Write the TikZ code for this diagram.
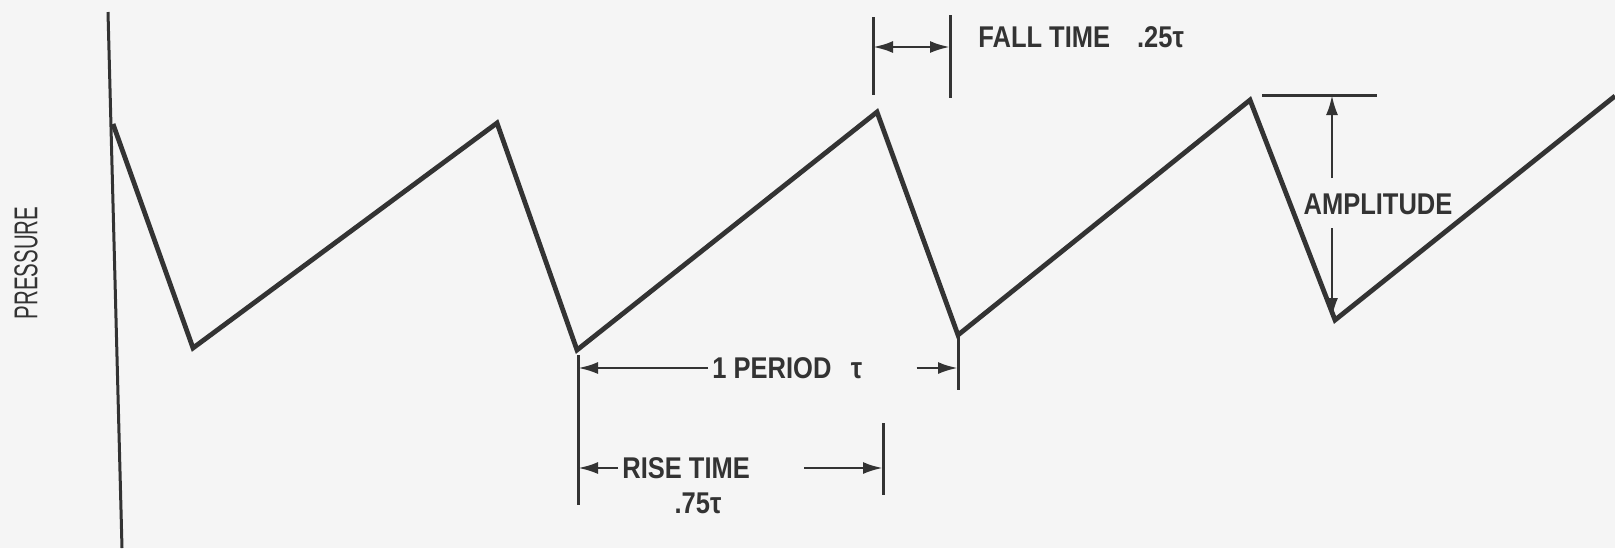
\documentclass[tikz,border=0pt]{standalone}
\usepackage{fontspec}
\setmainfont{Liberation Sans}[FakeStretch=0.85]
\newfontfamily\axisfont{Liberation Sans}[FakeStretch=0.62]
\usetikzlibrary{arrows.meta,calc}
\definecolor{ink}{gray}{0.2}
\definecolor{paper}{gray}{0.96}
\tikzset{
  wave/.style={ink,line width=2.4pt,line join=miter},
  dimline/.style={ink,line width=1.5pt},
  dimarrow/.style={ink,line width=1.4pt,-{Latex[length=10pt,width=6pt]}},
  dimboth/.style={ink,line width=1.4pt,{Latex[length=10pt,width=6pt]}-{Latex[length=10pt,width=6pt]}},
  lbl/.style={ink,font=\fontsize{15}{18}\selectfont\bfseries,inner sep=0pt},
}

\begin{document}
\begin{tikzpicture}[x=0.5pt,y=-0.5pt]
%\draw[help lines,step=50] (0,0) grid (1615,548);
\fill[paper] (0,0) rectangle (1615,548);
\useasboundingbox (0,0) rectangle (1615,548);

% axis
\coordinate (axtop) at (108,12);
\coordinate (axbot) at (122,548);
\draw[ink,line width=1.5pt] (axtop) -- (axbot);
\node[ink,font=\axisfont\fontsize{16.5}{18}\selectfont,rotate=90] (pres) at (26,263) {PRESSURE};

% sawtooth
\coordinate (w0) at (113,124);
\coordinate (t1) at (193,348);
\coordinate (p1) at (497,123);
\coordinate (t2) at (577,350);
\coordinate (p2) at (877,112);
\coordinate (t3) at (958,335);
\coordinate (p3) at (1250,100);
\coordinate (t4) at (1335,320);
\coordinate (w9) at (1615,96);
\draw[wave] (w0) -- (t1) -- (p1) -- (t2) -- (p2) -- (t3) -- (p3) -- (t4) -- (w9);

% fall time
\coordinate (fa) at (873,17);
\coordinate (fb) at (873,95);
\coordinate (fc) at (950,15);
\coordinate (fd) at (950,98);
\coordinate (fl) at (873,47);
\coordinate (fr) at (950,47);
\draw[dimline] (fa) -- (fb);
\draw[dimline] (fc) -- (fd);
\draw[dimboth] (fl) -- (fr);
\node[lbl,anchor=west] (fall) at (978,37) {FALL TIME\hspace{0.9em}.25τ};

% period
\coordinate (ba) at (578,355);
\coordinate (bb) at (578,505);
\coordinate (bc) at (958,390);
\coordinate (perL) at (578,368);
\coordinate (perR) at (958,368);
\draw[dimline] (ba) -- (bb);
\draw[dimline] (t3) -- (bc);
\node[lbl,anchor=west] (per) at (712,368) {1 PERIOD\hspace{0.65em}τ};
\draw[dimarrow,shorten <=2] (per.west) -- (perL);
\draw[dimarrow,shorten <=27] (per.east) -- (perR);

% rise time
\coordinate (rc) at (883,423);
\coordinate (rd) at (883,495);
\coordinate (riL) at (578,468);
\coordinate (riR) at (883,468);
\draw[dimline] (rc) -- (rd);
\node[lbl,anchor=west] (rise) at (622,468) {RISE TIME};
\draw[dimarrow,shorten <=2] (rise.west) -- (riL);
\draw[dimarrow,shorten <=27] (rise.east) -- (riR);
\node[lbl] (risev) at (698,503) {.75τ};

% amplitude
\coordinate (aL) at (1262,95);
\coordinate (aR) at (1377,95);
\coordinate (atop) at (1332,95);
\coordinate (aup) at (1332,178);
\coordinate (adn) at (1332,228);
\coordinate (abot) at (1332,318);
\draw[dimline] (aL) -- (aR);
\node[lbl] (amp) at (1378,204) {AMPLITUDE};
\draw[dimarrow] (aup) -- (atop);
\draw[dimarrow] (adn) -- (abot);
\end{tikzpicture}
\end{document}
